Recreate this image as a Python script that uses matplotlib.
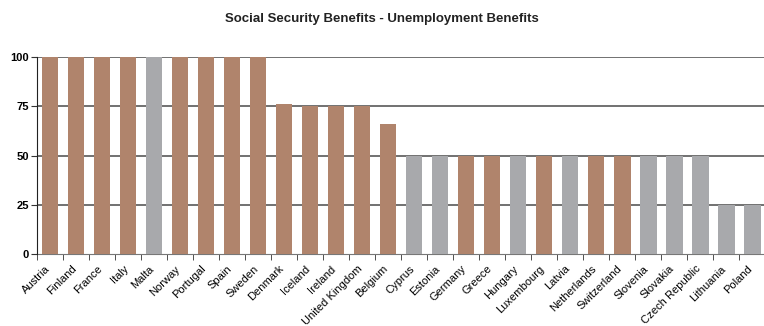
import matplotlib
matplotlib.use("Agg")
import matplotlib.pyplot as plt
import matplotlib.transforms as mtransforms
import numpy as np

countries = ["Austria", "Finland", "France", "Italy", "Malta", "Norway", "Portugal", "Spain",
             "Sweden", "Denmark", "Iceland", "Ireland", "United Kingdom", "Belgium", "Cyprus",
             "Estonia", "Germany", "Greece", "Hungary", "Luxembourg", "Latvia", "Netherlands",
             "Switzerland", "Slovenia", "Slovakia", "Czech Republic", "Lithuania", "Poland"]
values = [100, 100, 100, 100, 100, 100, 100, 100, 100, 76, 75, 75, 75, 66, 50,
          50, 50, 50, 50, 50, 50, 50, 50, 50, 50, 50, 25, 25]
groups = ["b", "b", "b", "b", "g", "b", "b", "b", "b", "b", "b", "b", "b", "b", "g",
          "g", "b", "b", "g", "b", "g", "b", "b", "g", "g", "g", "g", "g"]
yticks = [0, 25, 50, 75, 100]
title = "Social Security Benefits - Unemployment Benefits"

palette = {"b": "#B0846C", "g": "#A8A9AC"}

plt.rcParams['font.family'] = ['Liberation Sans', 'DejaVu Sans']
fig = plt.figure(figsize=(7.64, 3.26), dpi=100)
ax = fig.add_axes([0.0484, 0.221, 0.953, 0.604])

x = np.arange(len(countries))
ax.bar(x, values, width=0.65, color=[palette[g] for g in groups], zorder=3)
for yv in yticks[1:]:
    ax.axhline(yv, color="#4a4a4a", lw=1.1, zorder=2)

ax.set_xlim(-0.5, len(countries) - 0.5)
ax.set_ylim(0, 100)
ax.set_yticks(yticks)
ax.set_yticklabels([str(v) for v in yticks], fontsize=8, fontweight='bold')
ax.set_xticks(x)
ax.set_xticklabels(countries, rotation=45, ha='right', rotation_mode='anchor', fontsize=8)
ax.set_xticks(np.arange(len(countries) + 1) - 0.5, minor=True)
ax.tick_params(axis='x', which='major', length=0, pad=7)
ax.tick_params(axis='x', which='minor', length=4, color="#333333", direction='out')
ax.tick_params(axis='y', length=4, color="#333333", direction='out', pad=2)
offset = mtransforms.ScaledTranslation(-5 / 100, 0, fig.dpi_scale_trans)
for lab in ax.get_xticklabels():
    lab.set_transform(lab.get_transform() + offset)
for s in ["top", "right"]:
    ax.spines[s].set_visible(False)
ax.spines["left"].set_color("#222222")
ax.spines["bottom"].set_color("#777777")
ax.spines["left"].set_zorder(4)

fig.text(0.5, 0.942, title, ha='center', va='center', fontsize=9.5, fontweight='bold', color="#222222")

fig.savefig("out.png", dpi=100)
